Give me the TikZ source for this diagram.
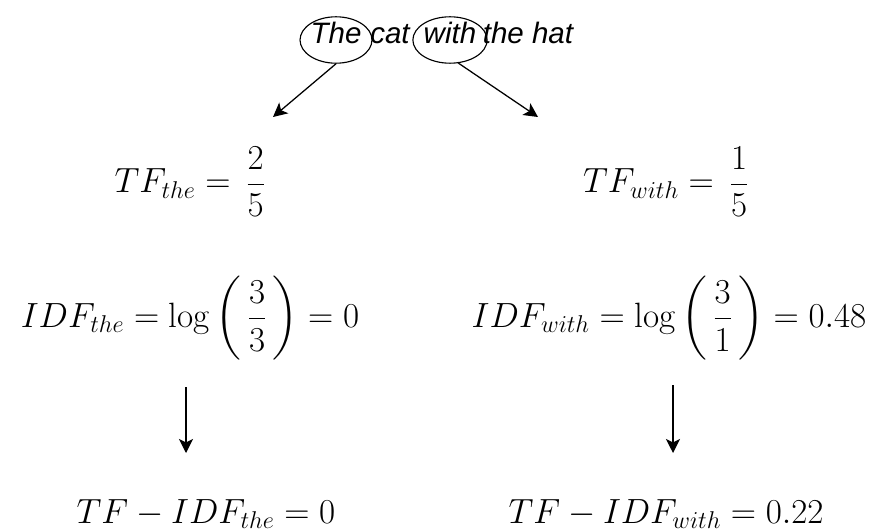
\documentclass[tikz,border=0pt]{standalone}
\usepackage{amsmath}
\usepackage{fontspec}
\newfontfamily\sentfont{Liberation Sans}
\usetikzlibrary{shapes.geometric,arrows.meta}

\tikzset{
  eq/.style={font=\fontsize{25}{30}\selectfont, inner sep=0pt, anchor=base},
  word/.style={font=\sentfont\itshape\fontsize{21}{25}\selectfont, inner sep=0pt,
    text height=0.75em, text depth=0.2em},
  ring/.style={word, ellipse, draw, line width=0.8pt, minimum width=47pt, minimum height=33pt},
  arr/.style={line width=0.9pt, -{Stealth[length=10pt,width=10pt,inset=2.5pt]}}
}

\begin{document}
\begin{tikzpicture}[x=0.025cm, y=-0.025cm]

\useasboundingbox (0,0) rectangle (880,531);

% Sentence
\node[ring] (wThe) at (336,40) {The};
\node[word] (wcat) at (390,40) {cat};
\node[ring] (wwith) at (450,40) {with};
\node[word] (wrest) at (528,40) {the hat};

% Arrow ends
\coordinate (lhead) at (273,117);
\coordinate (rhead) at (538,117);
\coordinate (ltop) at (186,387);
\coordinate (lbot) at (186,453);
\coordinate (rtop) at (673,385);
\coordinate (rbot) at (673,453);

% Term frequency
\node[eq] (tfthe) at (190,193) {$\displaystyle TF_{the} = \,\frac{2}{5}$};
\node[eq] (tfwith) at (666,193) {$\displaystyle TF_{with} = \,\frac{1}{5}$};

% Inverse document frequency
\node[eq] (idfthe) at (190,327) {$\displaystyle IDF_{the} = \log\left(\,\frac{3}{3}\,\right) = 0$};
\node[eq] (idfwith) at (669,327) {$\displaystyle IDF_{with} = \log\left(\,\frac{3}{1}\,\right) = 0.48$};

% Product
\node[eq] (tfidfthe) at (206,523) {$TF - IDF_{the} = 0$};
\node[eq] (tfidfwith) at (666,523) {$TF - IDF_{with} = 0.22$};

\draw[arr] (wThe.south) -- (lhead);
\draw[arr] (wwith.-70) -- (rhead);
\draw[arr] (ltop) -- (lbot);
\draw[arr] (rtop) -- (rbot);

\end{tikzpicture}
\end{document}
